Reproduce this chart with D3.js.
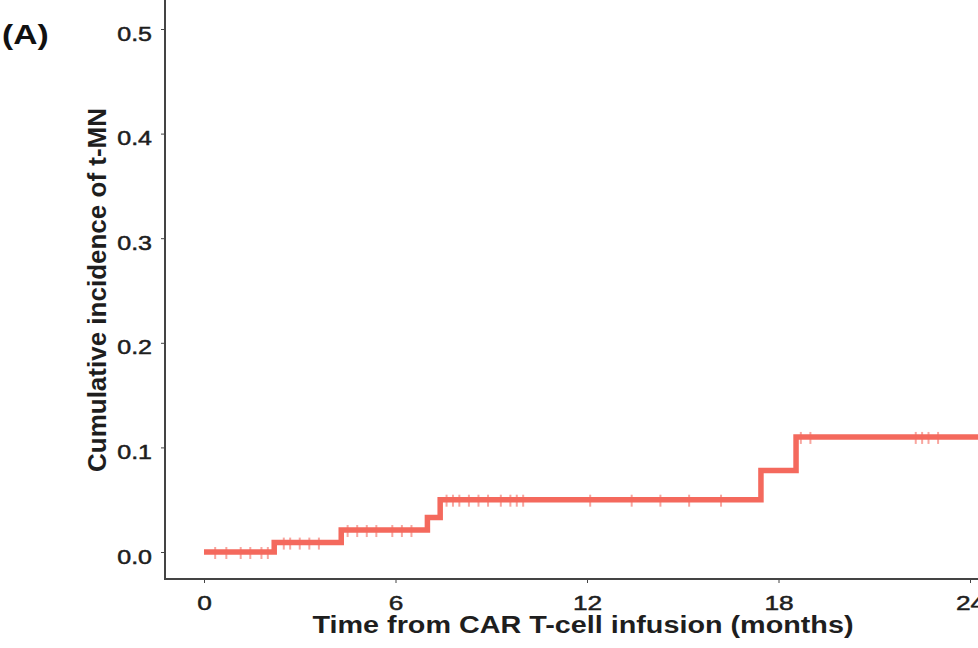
<!DOCTYPE html>
<html>
<head>
  <meta charset="utf-8">
  <script src="https://cdn.jsdelivr.net/npm/d3@7"></script>
  <style>
    body { margin: 0; background: #fff; }
    text { font-family: "Liberation Sans", Arial, sans-serif; }
  </style>
</head>
<body>
  <svg id="chart" width="978" height="648"></svg>
  <script>
    // step function of cumulative incidence
    let stepTimes = [0, 2.2, 4.3, 7.0, 7.4, 17.45, 18.55]
    let stepValues = [0, 0.009, 0.021, 0.033, 0.05, 0.078, 0.11]
    let endTime = 25.6
    // censored observations (months)
    let censorTimes = [0.35, 0.7, 1.15, 1.45, 1.8, 2.0,
                       2.5, 2.7, 3.0, 3.3, 3.6,
                       4.5, 4.8, 5.1, 5.4, 5.9, 6.2, 6.5,
                       7.6, 7.8, 8.0, 8.3, 8.6, 8.9, 9.3, 9.6, 9.8, 10.0, 12.1, 13.4, 14.3, 15.2, 16.2,
                       18.7, 19.0, 22.3, 22.5, 22.7, 23.0]
    let xTicks = [0, 6, 12, 18, 24]
    let yTicks = [0, 0.1, 0.2, 0.3, 0.4, 0.5]

    let svg = d3.select("#chart")
    let col = "#f4695d"
    let ink = "#1e1e1e"

    let scX = d3.scaleLinear().domain([0, 24]).range([204, 970])
    let scY = d3.scaleLinear().domain([0, 0.5]).range([552, 29])

    let left = 165, bottom = 579

    // the source picture is a bit wider than tall, so widen horizontal text
    function widen(sel, k) {
      sel.each(function() {
        let w = this.getComputedTextLength()
        d3.select(this).attr("textLength", w * k).attr("lengthAdjust", "spacingAndGlyphs")
      })
    }

    function valueAt(t) {
      let v = 0
      stepTimes.forEach((s, i) => { if (t >= s) v = stepValues[i] })
      return v
    }

    let pts = stepTimes.map((t, i) => [t, stepValues[i]])
    pts.push([endTime, stepValues[stepValues.length - 1]])

    let line = d3.line()
                 .x(d => scX(d[0]))
                 .y(d => scY(d[1]))
                 .curve(d3.curveStepAfter)

    svg.selectAll("line.cens")
       .data(censorTimes)
       .enter()
       .append("line")
       .attr("class", "cens")
       .attr("x1", d => scX(d))
       .attr("x2", d => scX(d))
       .attr("y1", d => scY(valueAt(d)) - 5)
       .attr("y2", d => scY(valueAt(d)) + 7)
       .attr("stroke", col)
       .attr("stroke-opacity", 0.6)
       .attr("stroke-width", 2)

    svg.append("path")
       .datum(pts)
       .attr("d", line)
       .attr("fill", "none")
       .attr("stroke", col)
       .attr("stroke-width", 5.5)

    // axes
    let xAxis = d3.axisBottom(scX).tickValues(xTicks).tickSize(4)
    let gx = svg.append("g")
                .attr("transform", `translate(0,${bottom})`)
                .call(xAxis)
    gx.select(".domain").remove()
    gx.append("line").attr("x1", left - 1).attr("x2", 978).attr("stroke", "#444").attr("stroke-width", 2)
    gx.selectAll(".tick line").attr("stroke", "#444")
    gx.selectAll(".tick text")
      .attr("dy", null).attr("y", 31)
      .attr("font-size", 21).attr("fill", ink)
      .attr("stroke", ink).attr("stroke-width", 0.5)
      .attr("font-family", "Liberation Sans, Arial, sans-serif")
      .call(widen, 1.25)

    let yAxis = d3.axisLeft(scY).tickValues(yTicks).tickFormat(d3.format(".1f")).tickSize(4)
    let gy = svg.append("g")
                .attr("transform", `translate(${left},0)`)
                .call(yAxis)
    gy.select(".domain").remove()
    gy.append("line").attr("y1", 0).attr("y2", bottom + 1).attr("stroke", "#444").attr("stroke-width", 2)
    gy.selectAll(".tick line").attr("stroke", "#444")
    gy.selectAll(".tick text")
      .attr("dy", null).attr("y", 11).attr("x", -13)
      .attr("font-size", 20).attr("fill", ink)
      .attr("stroke", ink).attr("stroke-width", 0.5)
      .attr("font-family", "Liberation Sans, Arial, sans-serif")
      .call(widen, 1.25)

    svg.append("text")
       .attr("x", 583).attr("y", 633)
       .attr("text-anchor", "middle")
       .attr("font-size", 23).attr("font-weight", "bold").attr("fill", ink)
       .text("Time from CAR T-cell infusion (months)")
       .call(widen, 1.25)

    svg.append("text")
       .attr("transform", "translate(106,290) rotate(-90)")
       .attr("text-anchor", "middle")
       .attr("font-size", 26).attr("font-weight", "bold").attr("fill", ink)
       .text("Cumulative incidence of t-MN")

    svg.append("text")
       .attr("x", 2).attr("y", 44)
       .attr("font-size", 28).attr("font-weight", "bold").attr("fill", "#111")
       .text("(A)")
       .call(widen, 1.2)
  </script>
</body>
</html>
